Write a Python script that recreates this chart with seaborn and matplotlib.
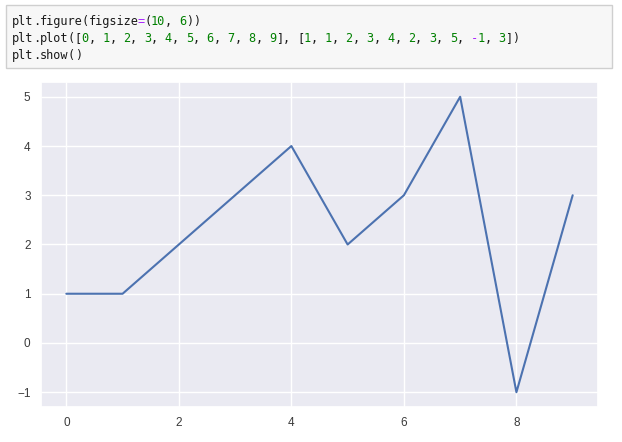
import re
import matplotlib
matplotlib.use("Agg")
import matplotlib.pyplot as plt
import seaborn as sns
from matplotlib.patches import Rectangle

sns.set_theme(style="darkgrid")
plt.rcParams['font.family'] = ['Liberation Sans', 'DejaVu Sans']

# data
x_vals = [0, 1, 2, 3, 4, 5, 6, 7, 8, 9]
y_vals = [1, 1, 2, 3, 4, 2, 3, 5, -1, 3]

# notebook cell text shown above the chart
code_lines = [
    "plt.figure(figsize=(10, 6))",
    "plt.plot([0, 1, 2, 3, 4, 5, 6, 7, 8, 9], [1, 1, 2, 3, 4, 2, 3, 5, -1, 3])",
    "plt.show()",
]

W, H = 622, 442
fig = plt.figure(figsize=(W / 100, H / 100), dpi=100)
fig.patch.set_facecolor("white")

# code cell box
fig.patches.append(Rectangle((6 / W, 1 - 68 / H), 606 / W, 63 / H,
                             transform=fig.transFigure, facecolor="#f7f7f7",
                             edgecolor="#cfcfcf", linewidth=1.0, zorder=0))

pitch = 6.95
line_base = [25, 42, 59]
for row, line in enumerate(code_lines):
    for m in re.finditer(r"\d+|[=\-]|[A-Za-z]+|[^\dA-Za-z=\-]", line):
        tok = m.group()
        if tok.isdigit():
            col = "#008000"
        elif tok in "=-":
            col = "#aa22ff"
        else:
            col = "#1a1a1a"
        fig.text((12 + m.start() * pitch) / W, 1 - line_base[row] / H, tok,
                 family="DejaVu Sans Mono", fontsize=8.6, color=col,
                 ha="left", va="baseline")

# chart
ax = fig.add_axes([41 / W, 1 - 407 / H, 557 / W, 325 / H])
sns.lineplot(x=x_vals, y=y_vals, ax=ax, color="#4c72b0", linewidth=1.5)
ax.set_xlim(-0.45, 9.45)
ax.set_ylim(-1.3, 5.3)
ax.set_xticks([0, 2, 4, 6, 8])
ax.set_yticks([-1, 0, 1, 2, 3, 4, 5])
ax.tick_params(labelsize=8.5, length=0, pad=7.5, colors="#3a3a3a")

fig.savefig("out.png", dpi=100)
